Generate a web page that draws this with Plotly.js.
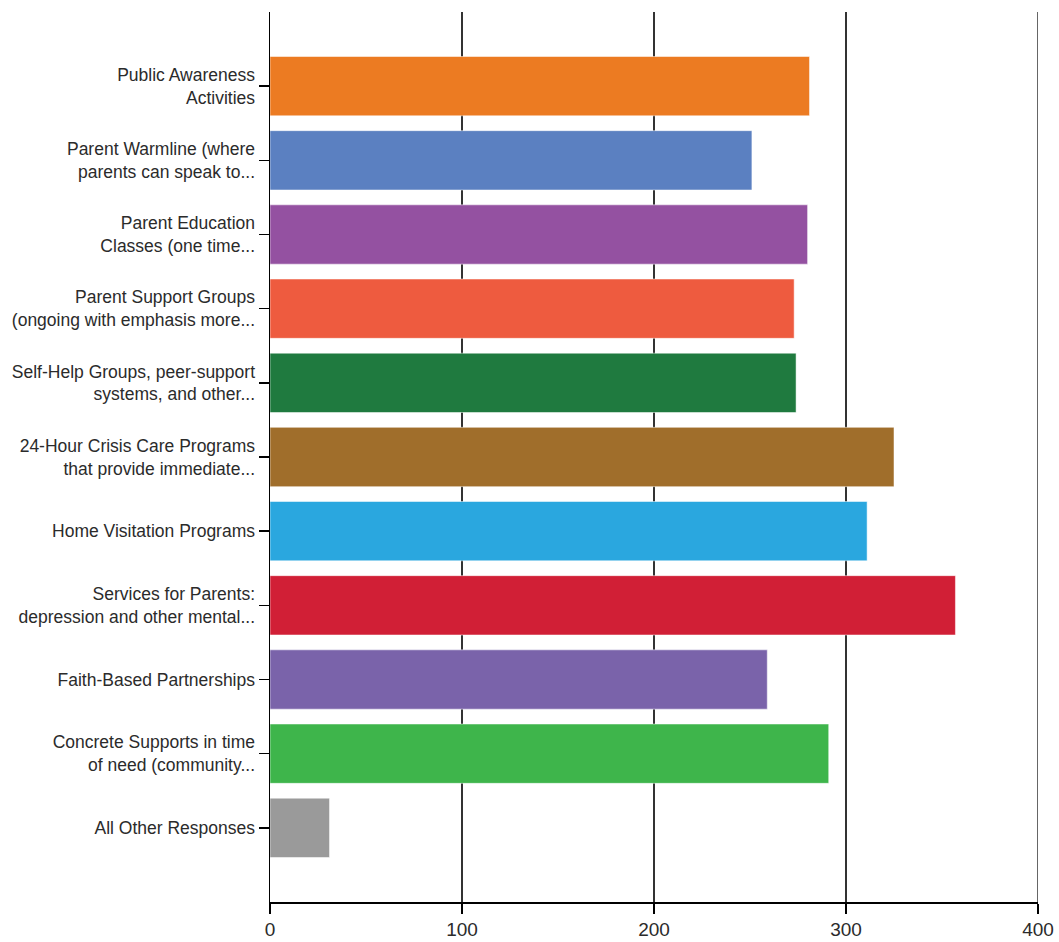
<!DOCTYPE html>
<html>
<head>
<meta charset="utf-8">
<script src="https://cdn.plot.ly/plotly-3.0.1.min.js"></script>
<style>html,body{margin:0;padding:0;background:#fff;}#chart{width:1059px;height:942px;}</style>
</head>
<body>
<div id="chart"></div>
<script>
const categories = [
  "Public Awareness<br>Activities",
  "Parent Warmline (where<br>parents can speak to...",
  "Parent Education<br>Classes (one time...",
  "Parent Support Groups<br>(ongoing with emphasis more...",
  "Self-Help Groups, peer-support<br>systems, and other...",
  "24-Hour Crisis Care Programs<br>that provide immediate...",
  "Home Visitation Programs",
  "Services for Parents:<br>depression and other mental...",
  "Faith-Based Partnerships",
  "Concrete Supports in time<br>of need (community...",
  "All Other Responses"
];
const values = [281, 251, 280, 273, 274, 325, 311, 357, 259, 291, 31];
const barColors = ["#EC7B22", "#5B80C1", "#9451A1", "#EE5B3F", "#1F7A3F", "#A06E2B", "#2AA7DF", "#D11F36", "#7A63AA", "#3EB54B", "#9A9A9A"];
const xTicks = [0, 100, 200, 300, 400];

const font = "'Liberation Sans Narrow', 'Arial Narrow', 'Liberation Sans', Arial, sans-serif";

const trace = {
  type: "bar",
  orientation: "h",
  y: categories,
  x: values,
  width: 0.8,
  marker: {color: barColors, line: {color: "rgba(255,255,255,0.5)", width: 1}},
  hoverinfo: "x+y"
};

const layout = {
  width: 1059,
  height: 942,
  margin: {l: 270, r: 21, t: 12, b: 40},
  paper_bgcolor: "#fff",
  plot_bgcolor: "#fff",
  showlegend: false,
  font: {family: font, size: 17.5, color: "#2b2b2b"},
  xaxis: {
    range: [0, 400],
    tickvals: xTicks,
    ticktext: xTicks.map(String),
    showgrid: true,
    gridcolor: "#333",
    gridwidth: 1.5,
    zeroline: false,
    showline: true,
    linecolor: "#000",
    linewidth: 1.5,
    ticks: "outside",
    ticklen: 10,
    tickwidth: 1.5,
    tickcolor: "#000",
    tickfont: {family: font, size: 19, color: "#2b2b2b"},
    fixedrange: true
  },
  yaxis: {
    type: "category",
    autorange: false,
    range: [11, -1],
    showgrid: false,
    zeroline: false,
    showline: true,
    linecolor: "#000",
    linewidth: 1.5,
    ticks: "outside",
    ticklen: 10,
    tickwidth: 1.5,
    tickcolor: "#000",
    tickfont: {family: font, size: 17.5, color: "#2b2b2b"},
    fixedrange: true
  },
  shapes: [
    {type: "line", xref: "x", yref: "paper", xsizemode: "pixel", xanchor: 0, x0: -12, x1: 0, y0: 1, y1: 1, line: {color: "#000", width: 1.5}},
    {type: "line", xref: "x", yref: "paper", xsizemode: "pixel", xanchor: 0, x0: -12, x1: 0, y0: 0, y1: 0, line: {color: "#000", width: 1.5}},
    {type: "line", xref: "x", yref: "paper", x0: 400, x1: 400, y0: 0, y1: 1, line: {color: "#333", width: 1.5}}
  ]
};

Plotly.newPlot("chart", [trace], layout, {displayModeBar: false, staticPlot: true});
</script>
</body>
</html>
